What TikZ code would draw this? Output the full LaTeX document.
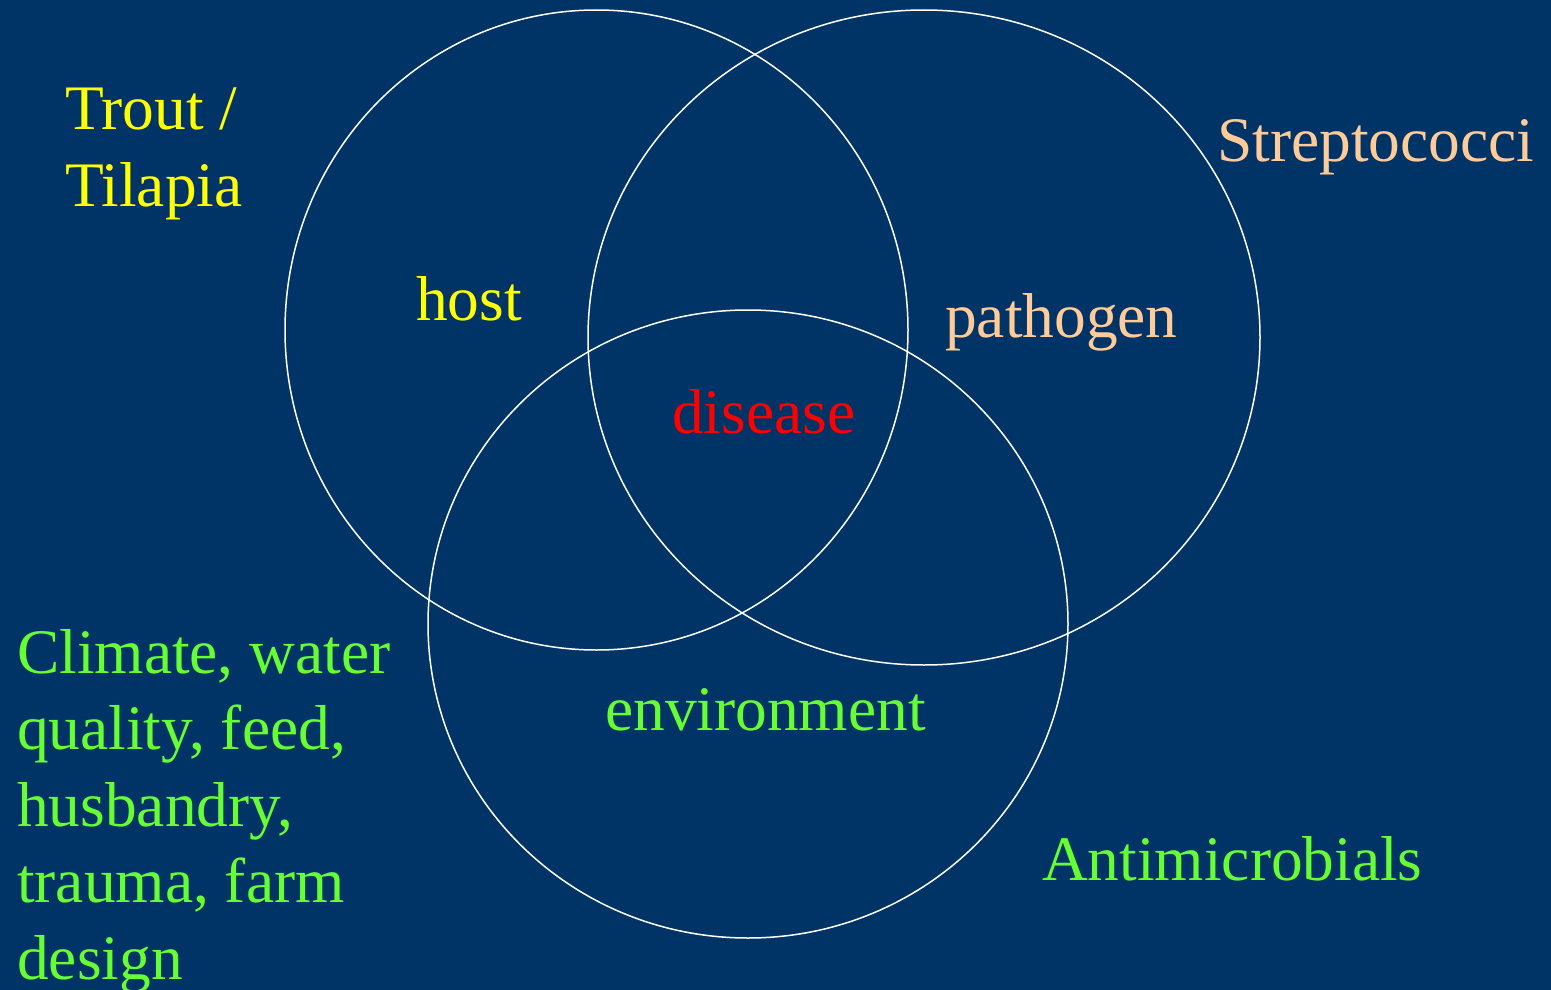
\documentclass[tikz,border=0pt]{standalone}
\usepackage{fontspec}
\setmainfont{Liberation Serif}
\definecolor{bgblue}{RGB}{0,51,102}
\definecolor{hostyellow}{RGB}{255,255,0}
\definecolor{peach}{RGB}{255,204,153}
\definecolor{envgreen}{RGB}{102,255,51}
\definecolor{disred}{RGB}{255,0,0}
\begin{document}
\begin{tikzpicture}[x=1pt,y=-1pt,
  lbl/.style={inner sep=0pt,anchor=base west,font=\fontsize{63.4}{76.5}\selectfont},
  ring/.style={draw=white,line width=1.5pt}]
\fill[bgblue] (0,0) rectangle (1551,990);
\useasboundingbox (0,0) rectangle (1551,990);
\draw[ring] (596.5,330) ellipse [x radius=311.5, y radius=320];
\draw[ring] (924,337.5) ellipse [x radius=336, y radius=327.5];
\draw[ring] (748,624) ellipse [x radius=320, y radius=314];
\node[lbl,text=hostyellow,align=left] (tt) at (65,206) {Trout /\\Tilapia};
\node[lbl,text=peach] (st) at (1217,161) {Streptococci};
\node[lbl,text=hostyellow] (ho) at (416,320) {host};
\node[lbl,text=peach] (pa) at (945,337) {pathogen};
\node[lbl,text=disred] (di) at (672,433) {disease};
\node[lbl,text=envgreen] (en) at (605,730) {environment};
\node[lbl,text=envgreen] (an) at (1042,880) {Antimicrobials};
\node[lbl,text=envgreen,align=left] (cl) at (17,979) {Climate, water\\quality, feed,\\husbandry,\\trauma, farm\\design};
\end{tikzpicture}
\end{document}
